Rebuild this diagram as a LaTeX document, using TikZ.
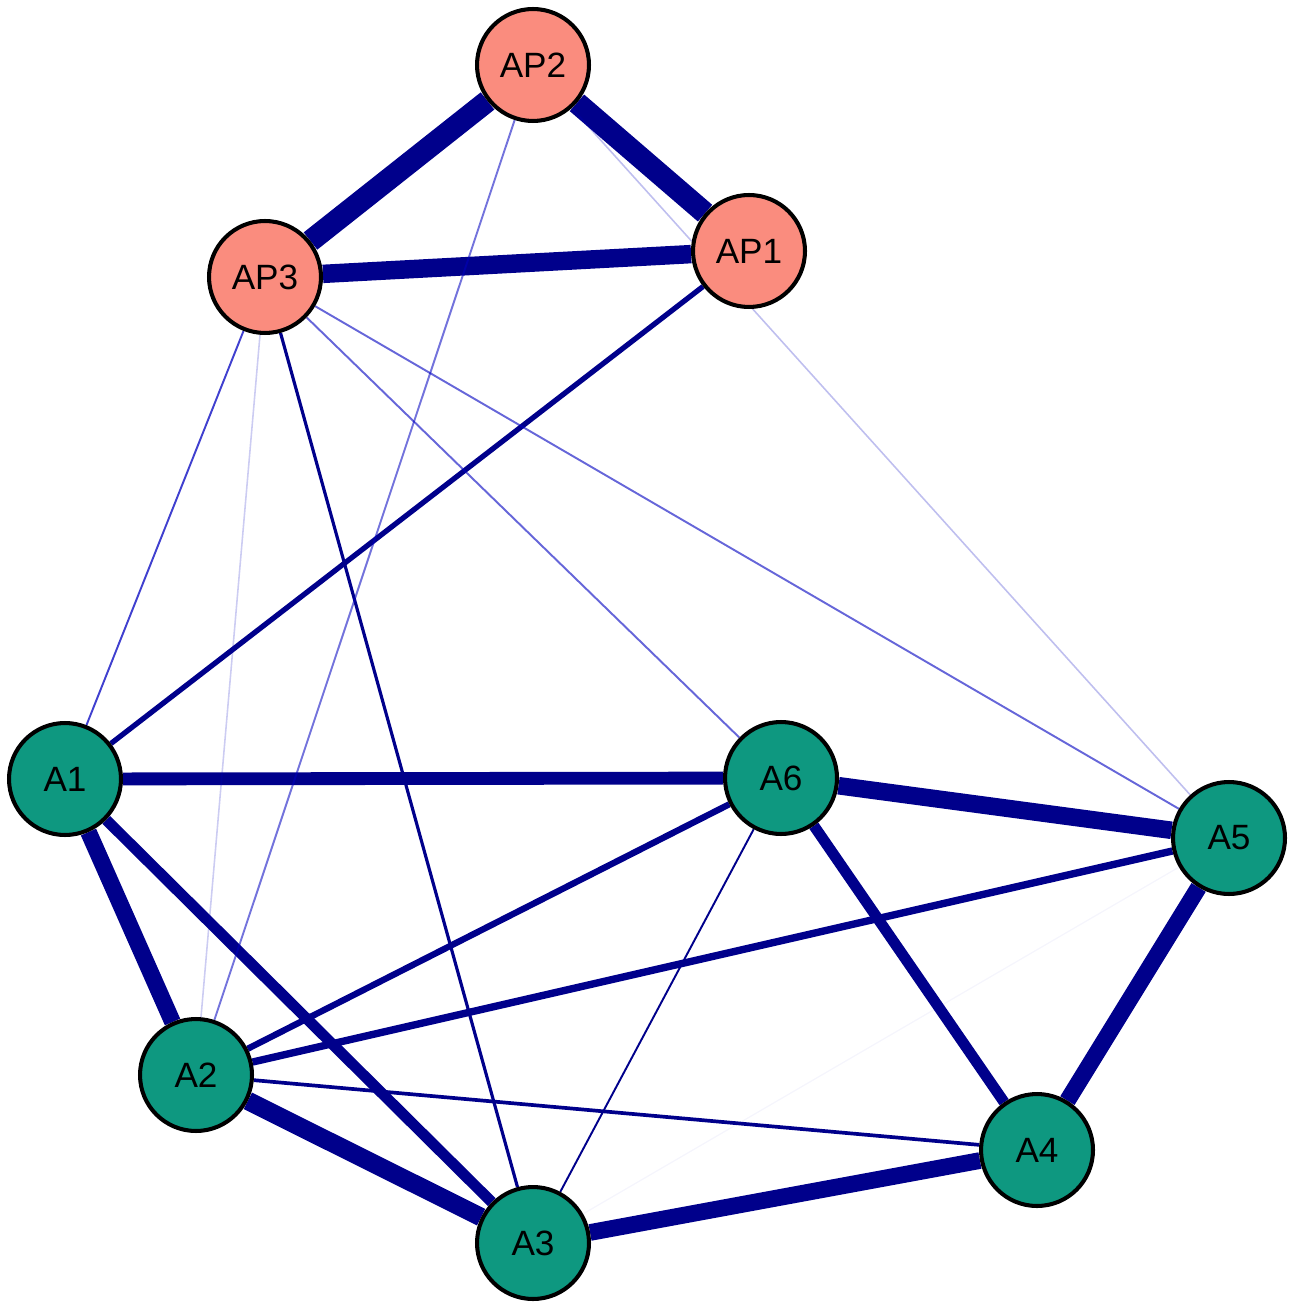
\documentclass[tikz,border=0pt]{standalone}
\usepackage{fontspec}
\setmainfont{Liberation Sans}
\usetikzlibrary{backgrounds}
\definecolor{apfill}{RGB}{250,140,126}
\definecolor{afill}{RGB}{14,152,128}
\definecolor{edgeblue}{RGB}{0,0,139}
\tikzset{
  apnode/.style={circle,draw=black,line width=2.3pt,fill=apfill,minimum size=2.24cm,inner sep=0pt,font=\fontsize{20}{24}\selectfont},
  anode/.style={apnode,fill=afill},
  link/.style={draw=edgeblue,line width=#1},
  pale/.style={draw=blue!75!black,draw opacity=#1,line width=1.1pt}
}
\begin{document}
\begin{tikzpicture}[x=0.02cm,y=-0.02cm]
  \useasboundingbox (0,0) rectangle (1292,1310);
  % 节点
  \node[apnode] (AP2) at (533,65) {AP2};
  \node[apnode] (AP1) at (749,251) {AP1};
  \node[apnode] (AP3) at (265,277) {AP3};
  \node[anode] (A1) at (65,779) {A1};
  \node[anode] (A6) at (781,778) {A6};
  \node[anode] (A5) at (1229,838) {A5};
  \node[anode] (A2) at (196,1075) {A2};
  \node[anode] (A4) at (1037,1150) {A4};
  \node[anode] (A3) at (533,1243) {A3};
  \begin{scope}[on background layer]
    % 粗连线
    \draw[link=12.5pt] (AP2) -- (AP3);
    \draw[link=12.5pt] (AP2) -- (AP1);
    \draw[link=10.5pt] (AP3) -- (AP1);
    \draw[link=10pt] (A6) -- (A5);
    \draw[link=10.5pt] (A2) -- (A3);
    \draw[link=9.5pt] (A5) -- (A4);
    \draw[link=9.5pt] (A3) -- (A4);
    \draw[link=9.5pt] (A1) -- (A2);
    \draw[link=7.3pt] (A1) -- (A6);
    \draw[link=6.2pt] (A1) -- (A3);
    \draw[link=6.2pt] (A6) -- (A4);
    % 中等连线
    \draw[link=4.2pt] (A5) -- (A2);
    \draw[link=3.6pt] (A6) -- (A2);
    \draw[link=3pt] (AP1) -- (A1);
    \draw[link=2.1pt] (A2) -- (A4);
    \draw[link=1.8pt] (AP3) -- (A3);
    \draw[link=1.1pt] (A6) -- (A3);
    % 细连线
    \draw[pale=0.75] (AP3) -- (A1);
    \draw[pale=0.6] (AP3) -- (A6);
    \draw[pale=0.6] (AP3) -- (A5);
    \draw[pale=0.55] (AP2) -- (A2);
    \draw[pale=0.2,line width=0.9pt] (AP3) -- (A2);
    \draw[pale=0.25,line width=0.9pt] (AP2) -- (A5);
    \draw[pale=0.04,line width=0.7pt] (A5) -- (A3);
  \end{scope}
\end{tikzpicture}
\end{document}
